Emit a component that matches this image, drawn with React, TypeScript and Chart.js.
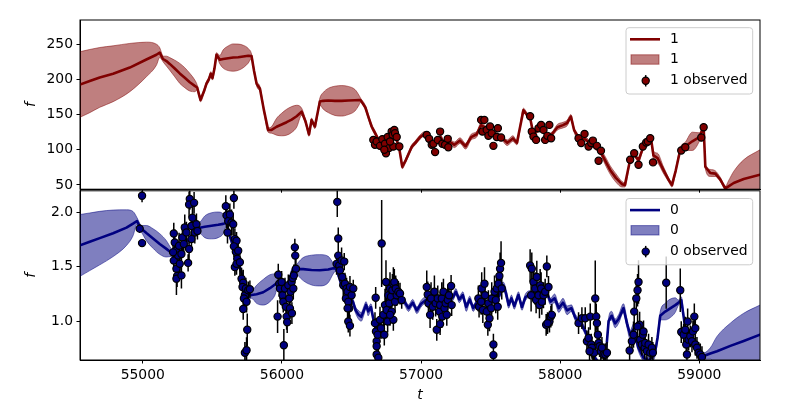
import React, { useEffect, useRef } from 'react';
import { Chart, registerables } from 'chart.js';
Chart.register(...registerables);

const xTicks = [55000, 56000, 57000, 58000, 59000];
const topYTicks = [50, 100, 150, 200, 250];
const bottomYTicks = [1.0, 1.5, 2.0];
const xRange = [54549, 59436];
const topYRange = [43.9, 284.4];
const bottomYRange = [0.643, 2.199];

const topName = '1';
const bottomName = '0';
const topColor = '#800000';
const bottomColor = '#000080';

// [t, mean, sd]
const fitTop: number[][] = [
  [54549, 192.7, 46.6], [54619, 197.6, 44.9], [54691, 202.8, 42.5], [54787, 208, 39.7], [54907, 216.8, 34.3],
  [55026, 228.3, 24.6], [55098, 235, 15], [55122, 238, 7], [55140, 231, 4],
  [55146, 229, 4], [55170, 226, 7], [55194, 222, 9], [55230, 215.5, 11.8], [55266, 208.5, 14.2],
  [55302, 202.4, 14.2], [55338, 196, 12.6], [55374, 190.8, 8.3], [55391, 188.5, 3.6],
  [55405, 178, 3], [55415, 171, 3], [55440, 183, 3], [55458, 194, 3], [55475, 200, 3],
  [55489, 208, 3], [55501, 202, 3], [55515, 215, 3], [55530, 235, 3],
  [55554, 228, 6], [55578, 229, 13], [55614, 230, 17.5], [55650, 231, 19.4], [55686, 231.5, 18.7],
  [55722, 232.5, 16], [55758, 233.5, 10.4], [55782, 233, 3],
  [55800, 212, 3], [55818, 194, 3], [55830, 190, 4], [55842, 187, 3], [55870, 157, 3], [55901, 128, 3],
  [55926, 128.2, 4.7], [55962, 132.7, 12], [55998, 135.8, 16], [56034, 139.1, 18.4], [56070, 142.9, 18.4],
  [56106, 147.6, 15.6], [56142, 154, 5],
  [56170, 140, 3], [56195, 122, 3], [56213, 142, 3], [56237, 133, 3],
  [56273, 168.5, 5], [56297, 169.5, 11.8], [56333, 170, 17.2], [56381, 169.5, 20.8], [56429, 169.5, 21.7],
  [56477, 170, 20], [56525, 170.3, 15.3], [56554, 170.5, 7], [56565, 170.5, 3],
  [56600, 160, 3], [56621, 147, 3], [56645, 133, 3], [56669, 124, 3], [56700, 112, 3],
  [56740, 108, 3], [56780, 113, 3], [56820, 117, 3], [56845, 100, 3], [56865, 76, 3],
  [56890, 85, 3], [56933, 104, 3], [56960, 110, 3], [56993, 118, 3], [57029, 123, 3],
  [57060, 116, 3], [57100, 107, 3], [57140, 118, 3], [57170, 108, 3], [57200, 112, 3],
  [57240, 107, 4], [57280, 113, 4], [57320, 105, 4], [57360, 118, 4], [57400, 122, 4],
  [57432, 135, 3], [57470, 130, 3], [57500, 125, 3], [57540, 122, 3], [57580, 117, 3],
  [57620, 110, 4], [57660, 116, 4], [57689, 110, 3], [57736, 156, 3], [57760, 150, 3],
  [57784, 145, 3], [57808, 122, 3], [57840, 128, 3], [57870, 130, 3], [57900, 120, 3],
  [57940, 122, 3], [57980, 132, 4], [58020, 135, 4], [58050, 138, 4], [58077, 147, 3],
  [58100, 128, 3], [58140, 115, 3], [58180, 115, 3], [58220, 108, 3], [58260, 102, 3],
  [58290, 97, 4], [58330, 82, 6], [58360, 71, 6], [58400, 60, 6], [58444, 51, 4],
  [58465, 50, 3], [58503, 86, 3], [58532, 93, 3], [58563, 85, 3], [58594, 102, 3],
  [58630, 112, 3], [58652, 117, 3], [58670, 92, 6], [58700, 88, 7], [58740, 72, 5],
  [58780, 57, 3], [58803, 50, 3], [58830, 70, 3], [58863, 100, 3], [58900, 105, 6],
  [58950, 112, 13], [59000, 118, 6], [59031, 132, 3], [59043, 76, 3], [59079, 67, 5],
  [59115, 66, 4], [59150, 58, 3], [59187, 45, 3], [59210, 48, 8], [59247, 52.7, 16.5],
  [59319, 58.3, 27.4], [59436, 64.5, 35.4],
];

// [t, f, err]
const obsTop: number[][] = [
  [56657, 114, 3], [56669, 107, 3], [56681, 111.6, 3], [56705, 105.5, 3], [56722, 115, 3],
  [56741, 108.4, 3], [56748, 95, 3], [56760, 118, 3], [56770, 102.3, 3], [56789, 125.8, 3],
  [56796, 121, 3], [56808, 128.2, 3], [56813, 123.5, 3], [56825, 118, 3], [56801, 104.5, 3],
  [56844, 104.5, 3], [56736, 100, 3], [56777, 111.6, 3],
  [57041, 121, 3], [57058, 115.5, 3], [57077, 107, 3], [57089, 108.4, 3], [57101, 96.6, 3],
  [57120, 114, 3], [57137, 125.8, 3], [57153, 108.4, 3], [57173, 107, 3], [57192, 115.5, 3],
  [57196, 103.6, 3],
  [57432, 142.4, 3], [57455, 142.4, 3], [57441, 125.8, 3], [57472, 128.2, 3], [57496, 133, 3],
  [57484, 119.7, 3], [57508, 123.5, 3], [57520, 105.5, 3], [57552, 130.6, 4], [57544, 118, 3],
  [57575, 117.3, 3],
  [57784, 147.6, 3], [57796, 125.8, 3], [57808, 118.7, 3], [57827, 114, 3], [57844, 130.6, 3],
  [57863, 135.3, 3], [57880, 128.2, 3], [57892, 114, 3], [57908, 119.7, 3], [57922, 135.3, 3],
  [57935, 116.4, 3],
  [58132, 116.4, 3], [58151, 109.4, 3], [58175, 122.5, 3], [58204, 104.5, 3], [58223, 109.4, 3],
  [58235, 113, 3], [58264, 105.5, 3], [58276, 84.3, 4], [58293, 98.5, 3],
  [58503, 85.7, 3], [58532, 95, 3], [58563, 78.6, 3], [58594, 104.5, 3], [58618, 110.2, 3],
  [58630, 111.6, 3], [58647, 116.4, 5], [58667, 82, 3],
  [58870, 99, 3], [58899, 103.6, 3], [59014, 117.3, 4], [59031, 132, 3],
];

// [t, mean, sd]
const fitBottom: number[][] = [
  [54549, 1.697, 0.284], [54619, 1.73, 0.265], [54691, 1.764, 0.246], [54787, 1.808, 0.214], [54883, 1.86, 0.164],
  [54930, 1.897, 0.112], [54959, 1.921, 0.03], [54978, 1.87, 0.03],
  [54990, 1.85, 0.03], [55026, 1.81, 0.07], [55074, 1.76, 0.09], [55122, 1.71, 0.095], [55170, 1.665, 0.075],
  [55206, 1.63, 0.035], [55218, 1.62, 0.03], [55266, 1.69, 0.03], [55338, 1.755, 0.03], [55374, 1.86, 0.03],
  [55410, 1.86, 0.05], [55446, 1.868, 0.1], [55494, 1.877, 0.12], [55542, 1.886, 0.118], [55578, 1.895, 0.091],
  [55602, 1.906, 0.03], [55626, 1.785, 0.03], [55674, 1.6, 0.03], [55722, 1.39, 0.03], [55770, 1.236, 0.03],
  [55782, 1.24, 0.03], [55818, 1.247, 0.083], [55866, 1.266, 0.118], [55914, 1.303, 0.124], [55950, 1.337, 0.098],
  [55974, 1.36, 0.03], [56000, 1.3, 0.03], [56040, 1.33, 0.03], [56078, 1.467, 0.03], [56100, 1.48, 0.03],
  [56117, 1.479, 0.06], [56153, 1.479, 0.106], [56213, 1.47, 0.137], [56273, 1.468, 0.144], [56333, 1.475, 0.121],
  [56369, 1.486, 0.05], [56385, 1.488, 0.03],
  [56400, 1.45, 0.03], [56430, 1.33, 0.03],
  [56470, 1.24, 0.03], [56510, 1.18, 0.03], [56530, 1.1, 0.03], [56550, 1.06, 0.04], [56570, 1.04, 0.04],
  [56590, 1.1, 0.04], [56605, 1.15, 0.03], [56620, 1.09, 0.04], [56640, 1.13, 0.03], [56660, 1.0, 0.03],
  [56680, 0.92, 0.03], [56720, 1.02, 0.03], [56760, 1.1, 0.03], [56800, 1.21, 0.03], [56840, 1.22, 0.03],
  [56880, 1.18, 0.03], [56910, 1.12, 0.03], [56940, 1.17, 0.03], [56970, 1.1, 0.03], [57000, 1.16, 0.03],
  [57040, 1.2, 0.03], [57080, 1.16, 0.03], [57120, 1.17, 0.03], [57160, 1.15, 0.03], [57200, 1.2, 0.03],
  [57230, 1.22, 0.03], [57250, 1.27, 0.03], [57275, 1.2, 0.03], [57300, 1.24, 0.03], [57325, 1.13, 0.04],
  [57350, 1.2, 0.03], [57375, 1.12, 0.03], [57400, 1.17, 0.03], [57440, 1.2, 0.03], [57480, 1.16, 0.03],
  [57520, 1.18, 0.03], [57560, 1.23, 0.03], [57590, 1.33, 0.03], [57610, 1.26, 0.04], [57630, 1.15, 0.03],
  [57650, 1.21, 0.03], [57670, 1.14, 0.03], [57700, 1.24, 0.03], [57725, 1.13, 0.03], [57750, 1.22, 0.03],
  [57784, 1.25, 0.03], [57820, 1.23, 0.03], [57860, 1.25, 0.03], [57900, 1.27, 0.03], [57930, 1.18, 0.03],
  [57960, 1.21, 0.04], [57990, 1.12, 0.04], [58020, 1.17, 0.04], [58050, 1.1, 0.04], [58080, 1.12, 0.03],
  [58110, 1.03, 0.03], [58150, 0.98, 0.03], [58180, 0.906, 0.03], [58220, 0.78, 0.03], [58250, 0.66, 0.03],
  [58290, 0.6, 0.03], [58320, 0.64, 0.03], [58335, 0.8, 0.03], [58348, 1.0, 0.03], [58370, 1.05, 0.04],
  [58395, 0.98, 0.04], [58420, 1.02, 0.04], [58455, 1.12, 0.04], [58480, 0.98, 0.04], [58503, 0.875, 0.04],
  [58530, 0.93, 0.05], [58560, 0.76, 0.03], [58600, 0.66, 0.03], [58640, 0.64, 0.03], [58680, 0.7, 0.03],
  [58700, 0.85, 0.03],
  [58719, 1.05, 0.038], [58755, 1.088, 0.076], [58791, 1.118, 0.085], [58827, 1.148, 0.067], [58851, 1.171, 0.023],
  [58870, 1.194, 0.03], [58906, 0.875, 0.03], [58940, 0.86, 0.03], [58978, 0.78, 0.03], [59031, 0.679, 0.03],
  [59079, 0.703, 0.052], [59127, 0.724, 0.136], [59223, 0.773, 0.209], [59319, 0.818, 0.255], [59436, 0.876, 0.272],
];

// [t, f, err]
const obsBottom: number[][] = [
  [54995, 2.154, 0.06], [54978, 1.851, 0.04], [54995, 1.718, 0.03],
  [55223, 1.806, 0.1], [55230, 1.724, 0.12], [55237, 1.648, 0.1], [55223, 1.557, 0.1], [55242, 1.482, 0.12],
  [55247, 1.415, 0.1], [55242, 1.391, 0.15], [55254, 1.603, 0.1], [55261, 1.694, 0.12], [55266, 1.527, 0.1],
  [55278, 1.618, 0.1], [55285, 1.77, 0.12], [55295, 1.709, 0.1], [55302, 1.861, 0.12], [55314, 1.815, 0.1],
  [55326, 1.536, 0.08], [55333, 1.664, 0.1], [55338, 2.124, 0.1], [55333, 2.073, 0.12], [55350, 1.876, 0.1],
  [55357, 1.951, 0.12], [55369, 2.088, 0.1], [55374, 1.815, 0.1], [55386, 1.891, 0.1], [55393, 1.83, 0.08],
  [55350, 1.755, 0.1], [55278, 1.421, 0.12], [55218, 1.633, 0.1],
  [55597, 2.058, 0.1], [55602, 1.973, 0.12], [55614, 1.921, 0.1], [55609, 1.815, 0.1], [55626, 1.982, 0.1],
  [55638, 1.906, 0.12], [55655, 2.133, 0.1], [55650, 1.891, 0.1], [55662, 1.755, 0.1], [55674, 1.739, 0.08],
  [55669, 1.639, 0.1], [55655, 1.688, 0.1], [55679, 1.573, 0.1], [55662, 1.497, 0.08], [55686, 1.648, 0.1],
  [55674, 1.527, 0.1], [55698, 1.542, 0.12], [55710, 1.391, 0.1], [55722, 1.354, 0.12], [55717, 1.315, 0.1],
  [55734, 1.239, 0.1], [55727, 1.209, 0.12], [55741, 1.3, 0.1], [55758, 1.285, 0.08], [55770, 1.294, 0.08],
  [55722, 1.112, 0.1], [55746, 1.179, 0.1], [55751, 0.921, 0.15], [55734, 0.709, 0.1], [55746, 0.733, 0.12],
  [55974, 1.427, 0.1], [55981, 1.345, 0.12], [55969, 1.042, 0.15], [55986, 1.3, 0.1], [55998, 1.361, 0.1],
  [56005, 1.239, 0.12], [56010, 1.179, 0.1], [56014, 0.779, 0.15], [56022, 1.3, 0.1], [56029, 1.133, 0.1],
  [56034, 1.042, 0.12], [56038, 0.991, 0.1], [56046, 1.33, 0.1], [56053, 1.209, 0.12], [56058, 1.118, 0.1],
  [56062, 1.27, 0.1], [56070, 1.361, 0.1], [56077, 1.397, 0.1], [56082, 1.3, 0.1], [56093, 1.679, 0.08],
  [56096, 1.603, 0.1], [56101, 1.482, 0.1], [56086, 1.421, 0.1], [56072, 1.073, 0.1],
  [56398, 2.097, 0.14], [56405, 1.761, 0.1], [56393, 1.527, 0.1], [56405, 1.603, 0.12], [56412, 1.512, 0.1],
  [56417, 1.467, 0.1], [56429, 1.558, 0.12], [56434, 1.406, 0.1], [56448, 1.548, 0.08], [56441, 1.33, 0.1],
  [56453, 1.345, 0.1], [56465, 1.3, 0.1], [56472, 1.27, 0.1], [56460, 1.209, 0.1], [56477, 1.179, 0.1],
  [56489, 1.315, 0.1], [56484, 1.118, 0.1], [56501, 1.239, 0.1], [56513, 1.3, 0.08], [56477, 0.997, 0.1],
  [56489, 0.958, 0.1], [56472, 1.118, 0.1],
  [56674, 1.215, 0.1], [56669, 0.982, 0.1], [56676, 0.906, 0.12], [56681, 0.815, 0.1], [56681, 0.77, 0.1],
  [56681, 0.694, 0.12], [56693, 0.664, 0.1], [56688, 0.876, 0.1], [56705, 1.012, 0.12], [56712, 0.936, 0.1],
  [56717, 1.715, 0.4], [56729, 1.058, 0.12], [56736, 0.876, 0.1], [56741, 1.148, 0.15], [56748, 1.361, 0.2],
  [56753, 1.103, 0.12], [56760, 0.997, 0.1], [56765, 1.239, 0.15], [56772, 1.164, 0.12], [56777, 1.3, 0.15],
  [56784, 1.224, 0.12], [56789, 1.088, 0.1], [56794, 1.285, 0.15], [56801, 1.345, 0.15], [56808, 1.361, 0.12],
  [56813, 1.179, 0.1], [56818, 1.3, 0.12], [56825, 1.239, 0.1], [56837, 1.27, 0.1], [56849, 1.254, 0.1],
  [56861, 1.194, 0.08], [56801, 1.012, 0.1], [56777, 1.058, 0.1],
  [57041, 1.315, 0.15], [57048, 1.245, 0.12], [57053, 1.164, 0.1], [57065, 1.058, 0.12], [57072, 1.209, 0.15],
  [57084, 1.133, 0.12], [57096, 1.27, 0.15], [57105, 1.164, 0.12], [57113, 0.921, 0.1], [57120, 1.209, 0.12],
  [57132, 1.088, 0.1], [57137, 1.148, 0.12], [57149, 1.209, 0.15], [57153, 1.042, 0.1], [57161, 1.27, 0.12],
  [57168, 1.118, 0.1], [57177, 1.164, 0.12], [57185, 1.058, 0.1], [57192, 1.194, 0.12], [57201, 1.239, 0.1],
  [57216, 1.324, 0.1], [57220, 1.148, 0.1], [57137, 0.973, 0.1],
  [57412, 1.209, 0.12], [57417, 1.133, 0.1], [57432, 1.179, 0.12], [57436, 1.3, 0.15], [57444, 1.103, 0.12],
  [57456, 1.345, 0.15], [57460, 1.239, 0.12], [57472, 1.088, 0.1], [57480, 0.967, 0.1], [57484, 1.164, 0.12],
  [57492, 1.027, 0.12], [57504, 1.118, 0.1], [57508, 1.209, 0.15], [57520, 0.785, 0.1], [57520, 0.688, 0.1],
  [57528, 1.27, 0.15], [57537, 1.194, 0.12], [57544, 1.3, 0.12], [57556, 1.345, 0.15], [57563, 1.415, 0.15],
  [57568, 1.482, 0.15], [57575, 1.536, 0.2], [57580, 1.3, 0.1], [57551, 1.133, 0.12],
  [57784, 1.512, 0.15], [57796, 1.482, 0.15], [57791, 1.239, 0.15], [57808, 1.361, 0.15], [57820, 1.3, 0.15],
  [57827, 1.194, 0.12], [57832, 1.406, 0.15], [57844, 1.239, 0.12], [57851, 1.148, 0.12], [57856, 1.33, 0.15],
  [57863, 1.3, 0.15], [57868, 1.179, 0.12], [57880, 1.239, 0.12], [57892, 1.27, 0.12], [57899, 0.967, 0.1],
  [57904, 1.503, 0.1], [57916, 1.315, 0.1], [57923, 0.997, 0.1], [57933, 1.042, 0.1], [57940, 1.058, 0.1],
  [57909, 0.982, 0.1],
  [58132, 0.982, 0.1], [58156, 1.027, 0.1], [58180, 1.027, 0.1], [58192, 0.815, 0.1], [58204, 0.845, 0.1],
  [58216, 1.042, 0.12], [58223, 0.785, 0.1], [58228, 0.755, 0.1], [58235, 0.709, 0.1], [58244, 0.709, 0.1],
  [58252, 1.209, 0.35], [58259, 1.042, 0.12], [58264, 0.982, 0.1], [58271, 0.876, 0.1], [58276, 0.8, 0.1],
  [58283, 0.77, 0.1], [58292, 0.724, 0.1], [58300, 0.755, 0.1], [58312, 0.694, 0.1], [58324, 0.694, 0.1],
  [58336, 0.709, 0.1], [58211, 0.724, 0.1],
  [58499, 0.73, 0.1], [58515, 0.815, 0.1], [58527, 0.876, 0.12], [58532, 1.088, 0.15], [58547, 1.209, 0.15],
  [58556, 1.285, 0.15], [58563, 1.361, 0.2], [58571, 0.967, 0.12], [58575, 0.83, 0.1], [58587, 0.785, 0.1],
  [58594, 0.876, 0.1], [58599, 0.906, 0.1], [58607, 0.755, 0.1], [58611, 0.8, 0.1], [58623, 0.724, 0.1],
  [58635, 0.785, 0.1], [58647, 0.709, 0.1], [58659, 0.755, 0.1], [58666, 0.709, 0.1], [58556, 0.952, 0.12],
  [58762, 1.354, 0.24], [58863, 1.285, 0.2],
  [58870, 0.9, 0.1], [58887, 0.876, 0.1], [58899, 0.921, 0.12], [58906, 0.785, 0.1], [58916, 0.997, 0.12],
  [58923, 0.83, 0.1], [58935, 0.861, 0.1], [58947, 0.815, 0.1], [58954, 0.906, 0.1], [58964, 1.042, 0.12],
  [58971, 0.785, 0.1], [58983, 0.755, 0.1], [58995, 0.709, 0.1], [59007, 0.694, 0.1], [59019, 0.67, 0.1],
  [58971, 0.936, 0.1], [58911, 0.694, 0.1],
];

const FONT = 'DejaVu Sans';
const FS = 13.9;

function rgba(hex: string, a: number) {
  const r = parseInt(hex.slice(1, 3), 16), g = parseInt(hex.slice(3, 5), 16), b = parseInt(hex.slice(5, 7), 16);
  return `rgba(${r},${g},${b},${a})`;
}

const errorBarPlugin = {
  id: 'errbars',
  beforeDatasetDraw(chart: any, args: any) {
    const ds = chart.data.datasets[args.index];
    if (!ds.isObs) return;
    const { ctx, chartArea, scales } = chart;
    ctx.save();
    ctx.beginPath();
    ctx.rect(chartArea.left, chartArea.top, chartArea.right - chartArea.left, chartArea.bottom - chartArea.top);
    ctx.clip();
    ctx.strokeStyle = '#000';
    ctx.lineWidth = 1.5;
    ctx.beginPath();
    for (const p of ds.data) {
      const x = scales.x.getPixelForValue(p.x);
      ctx.moveTo(x, scales.y.getPixelForValue(p.y - p.e));
      ctx.lineTo(x, scales.y.getPixelForValue(p.y + p.e));
    }
    ctx.stroke();
    ctx.restore();
  },
};

const framePlugin = {
  id: 'frameAndLegend',
  afterDraw(chart: any, _args: any, opts: any) {
    const { ctx, chartArea } = chart;
    ctx.save();
    ctx.strokeStyle = '#000';
    ctx.lineWidth = 1;
    ctx.strokeRect(chartArea.left, chartArea.top, chartArea.right - chartArea.left, chartArea.bottom - chartArea.top);
    const R = chartArea.right, T = chartArea.top;
    const bx = R - 134, by = T + 7.7, bw = 126.7, bh = 66.3, rr = 3;
    ctx.beginPath();
    ctx.moveTo(bx + rr, by);
    ctx.lineTo(bx + bw - rr, by);
    ctx.arcTo(bx + bw, by, bx + bw, by + rr, rr);
    ctx.lineTo(bx + bw, by + bh - rr);
    ctx.arcTo(bx + bw, by + bh, bx + bw - rr, by + bh, rr);
    ctx.lineTo(bx + rr, by + bh);
    ctx.arcTo(bx, by + bh, bx, by + bh - rr, rr);
    ctx.lineTo(bx, by + rr);
    ctx.arcTo(bx, by, bx + rr, by, rr);
    ctx.closePath();
    ctx.fillStyle = 'rgba(255,255,255,0.8)';
    ctx.fill();
    ctx.strokeStyle = '#cccccc';
    ctx.stroke();
    const color = opts.color;
    const y1 = T + 19.3, y2 = T + 39.5, y3 = T + 60.8;
    ctx.strokeStyle = color;
    ctx.lineWidth = 2.6;
    ctx.beginPath();
    ctx.moveTo(R - 130, y1);
    ctx.lineTo(R - 100, y1);
    ctx.stroke();
    ctx.fillStyle = rgba(color, 0.5);
    ctx.fillRect(R - 129, y2 - 4.7, 28, 9.4);
    ctx.strokeStyle = rgba(color, 0.5);
    ctx.lineWidth = 1;
    ctx.strokeRect(R - 129, y2 - 4.7, 28, 9.4);
    const mx = R - 114.3;
    ctx.strokeStyle = '#000';
    ctx.lineWidth = 1.5;
    ctx.beginPath();
    ctx.moveTo(mx, y3 - 5.7);
    ctx.lineTo(mx, y3 + 5.7);
    ctx.stroke();
    ctx.beginPath();
    ctx.arc(mx, y3, 3.6, 0, Math.PI * 2);
    ctx.fillStyle = color;
    ctx.fill();
    ctx.lineWidth = 1.2;
    ctx.stroke();
    ctx.fillStyle = '#000';
    ctx.font = `${FS}px "${FONT}"`;
    ctx.textBaseline = 'middle';
    ctx.textAlign = 'left';
    ctx.fillText(opts.name, R - 90, y1);
    ctx.fillText(opts.name, R - 90, y2);
    ctx.fillText(`${opts.name} observed`, R - 90, y3);
    ctx.restore();
  },
};

function buildConfig(fit: number[][], obs: number[][], color: string, name: string, yRange: number[], yTicks: number[], isBottom: boolean, decimals: number) {
  const mean = fit.map(([t, m]) => ({ x: t, y: m }));
  const lo = fit.map(([t, m, s]) => ({ x: t, y: m - s }));
  const hi = fit.map(([t, m, s]) => ({ x: t, y: m + s }));
  const pts = obs.map(([t, f, e]) => ({ x: t, y: f, e }));
  const tickFont = { family: FONT, size: FS };
  return {
    type: 'line',
    data: {
      datasets: [
        { label: `${name} observed`, data: pts, isObs: true, showLine: false, pointRadius: 3.6, pointHoverRadius: 3.6,
          pointBackgroundColor: color, pointBorderColor: '#000', pointBorderWidth: 1.2, order: 0, clip: 0 },
        { label: name, data: mean, borderColor: color, borderWidth: 2.6, pointRadius: 0, fill: false, order: 1, clip: 0,
          borderJoinStyle: 'round', borderCapStyle: 'round' },
        { label: 'lo', data: lo, borderColor: rgba(color, 0.5), borderWidth: 1, pointRadius: 0, fill: false, order: 3, clip: 0,
          cubicInterpolationMode: 'monotone' },
        { label: 'hi', data: hi, borderColor: rgba(color, 0.5), borderWidth: 1, pointRadius: 0, fill: '-1',
          backgroundColor: rgba(color, 0.5), order: 2, clip: 0, cubicInterpolationMode: 'monotone' },
      ],
    },
    options: {
      responsive: true,
      maintainAspectRatio: false,
      animation: false,
      events: [],
      layout: { padding: { top: isBottom ? 4 : 20, right: 40, left: 0, bottom: 0 } },
      plugins: {
        legend: { display: false },
        tooltip: { enabled: false },
        frameAndLegend: { color, name },
      },
      scales: {
        x: {
          type: 'linear',
          min: xRange[0],
          max: xRange[1],
          afterBuildTicks: (s: any) => { s.ticks = xTicks.map((v) => ({ value: v })); },
          afterFit: (s: any) => { s.height = isBottom ? 46 : 4; s.paddingLeft = 0; s.paddingRight = 0; },
          ticks: { display: isBottom, color: '#000', padding: 3.5, maxRotation: 0, autoSkip: false, font: tickFont,
            callback: (v: any) => String(v) },
          grid: { drawOnChartArea: false, drawTicks: true, tickLength: 3.5, color: '#000', lineWidth: 1 },
          border: { display: true, color: '#000', width: 1 },
          title: { display: isBottom, text: 't', color: '#000', font: { family: FONT, size: FS, style: 'italic', lineHeight: 1 },
            padding: { top: 0, bottom: 4 } },
        },
        y: {
          type: 'linear',
          min: yRange[0],
          max: yRange[1],
          afterBuildTicks: (s: any) => { s.ticks = yTicks.map((v) => ({ value: v })); },
          afterFit: (s: any) => { s.width = 80; s.paddingTop = 0; s.paddingBottom = 0; },
          ticks: { color: '#000', padding: 3.5, autoSkip: false, font: tickFont,
            callback: (v: any) => Number(v).toFixed(decimals) },
          grid: { drawOnChartArea: false, drawTicks: true, tickLength: 3.5, color: '#000', lineWidth: 1 },
          border: { display: true, color: '#000', width: 1 },
          title: { display: true, text: 'f', color: '#000', font: { family: FONT, size: FS, style: 'italic', lineHeight: 1 },
            padding: { top: 24, bottom: 0 } },
        },
      },
    },
    plugins: [errorBarPlugin, framePlugin],
  };
}

export default function App() {
  const topRef = useRef<HTMLCanvasElement>(null);
  const botRef = useRef<HTMLCanvasElement>(null);
  useEffect(() => {
    Chart.defaults.font.family = FONT;
    Chart.defaults.font.size = FS;
    const c1 = new Chart(topRef.current as any, buildConfig(fitTop, obsTop, topColor, topName, topYRange, topYTicks, false, 0) as any);
    const c2 = new Chart(botRef.current as any, buildConfig(fitBottom, obsBottom, bottomColor, bottomName, bottomYRange, bottomYTicks, true, 1) as any);
    return () => { c1.destroy(); c2.destroy(); };
  }, []);
  return (
    <div style={{ position: 'fixed', left: 0, top: 0, width: 800, height: 400, overflow: 'hidden', background: '#fff' }}>
      <div style={{ position: 'absolute', left: 0, top: 0, width: 800, height: 194 }}>
        <canvas ref={topRef} />
      </div>
      <div style={{ position: 'absolute', left: 0, top: 186, width: 800, height: 220 }}>
        <canvas ref={botRef} />
      </div>
    </div>
  );
}
